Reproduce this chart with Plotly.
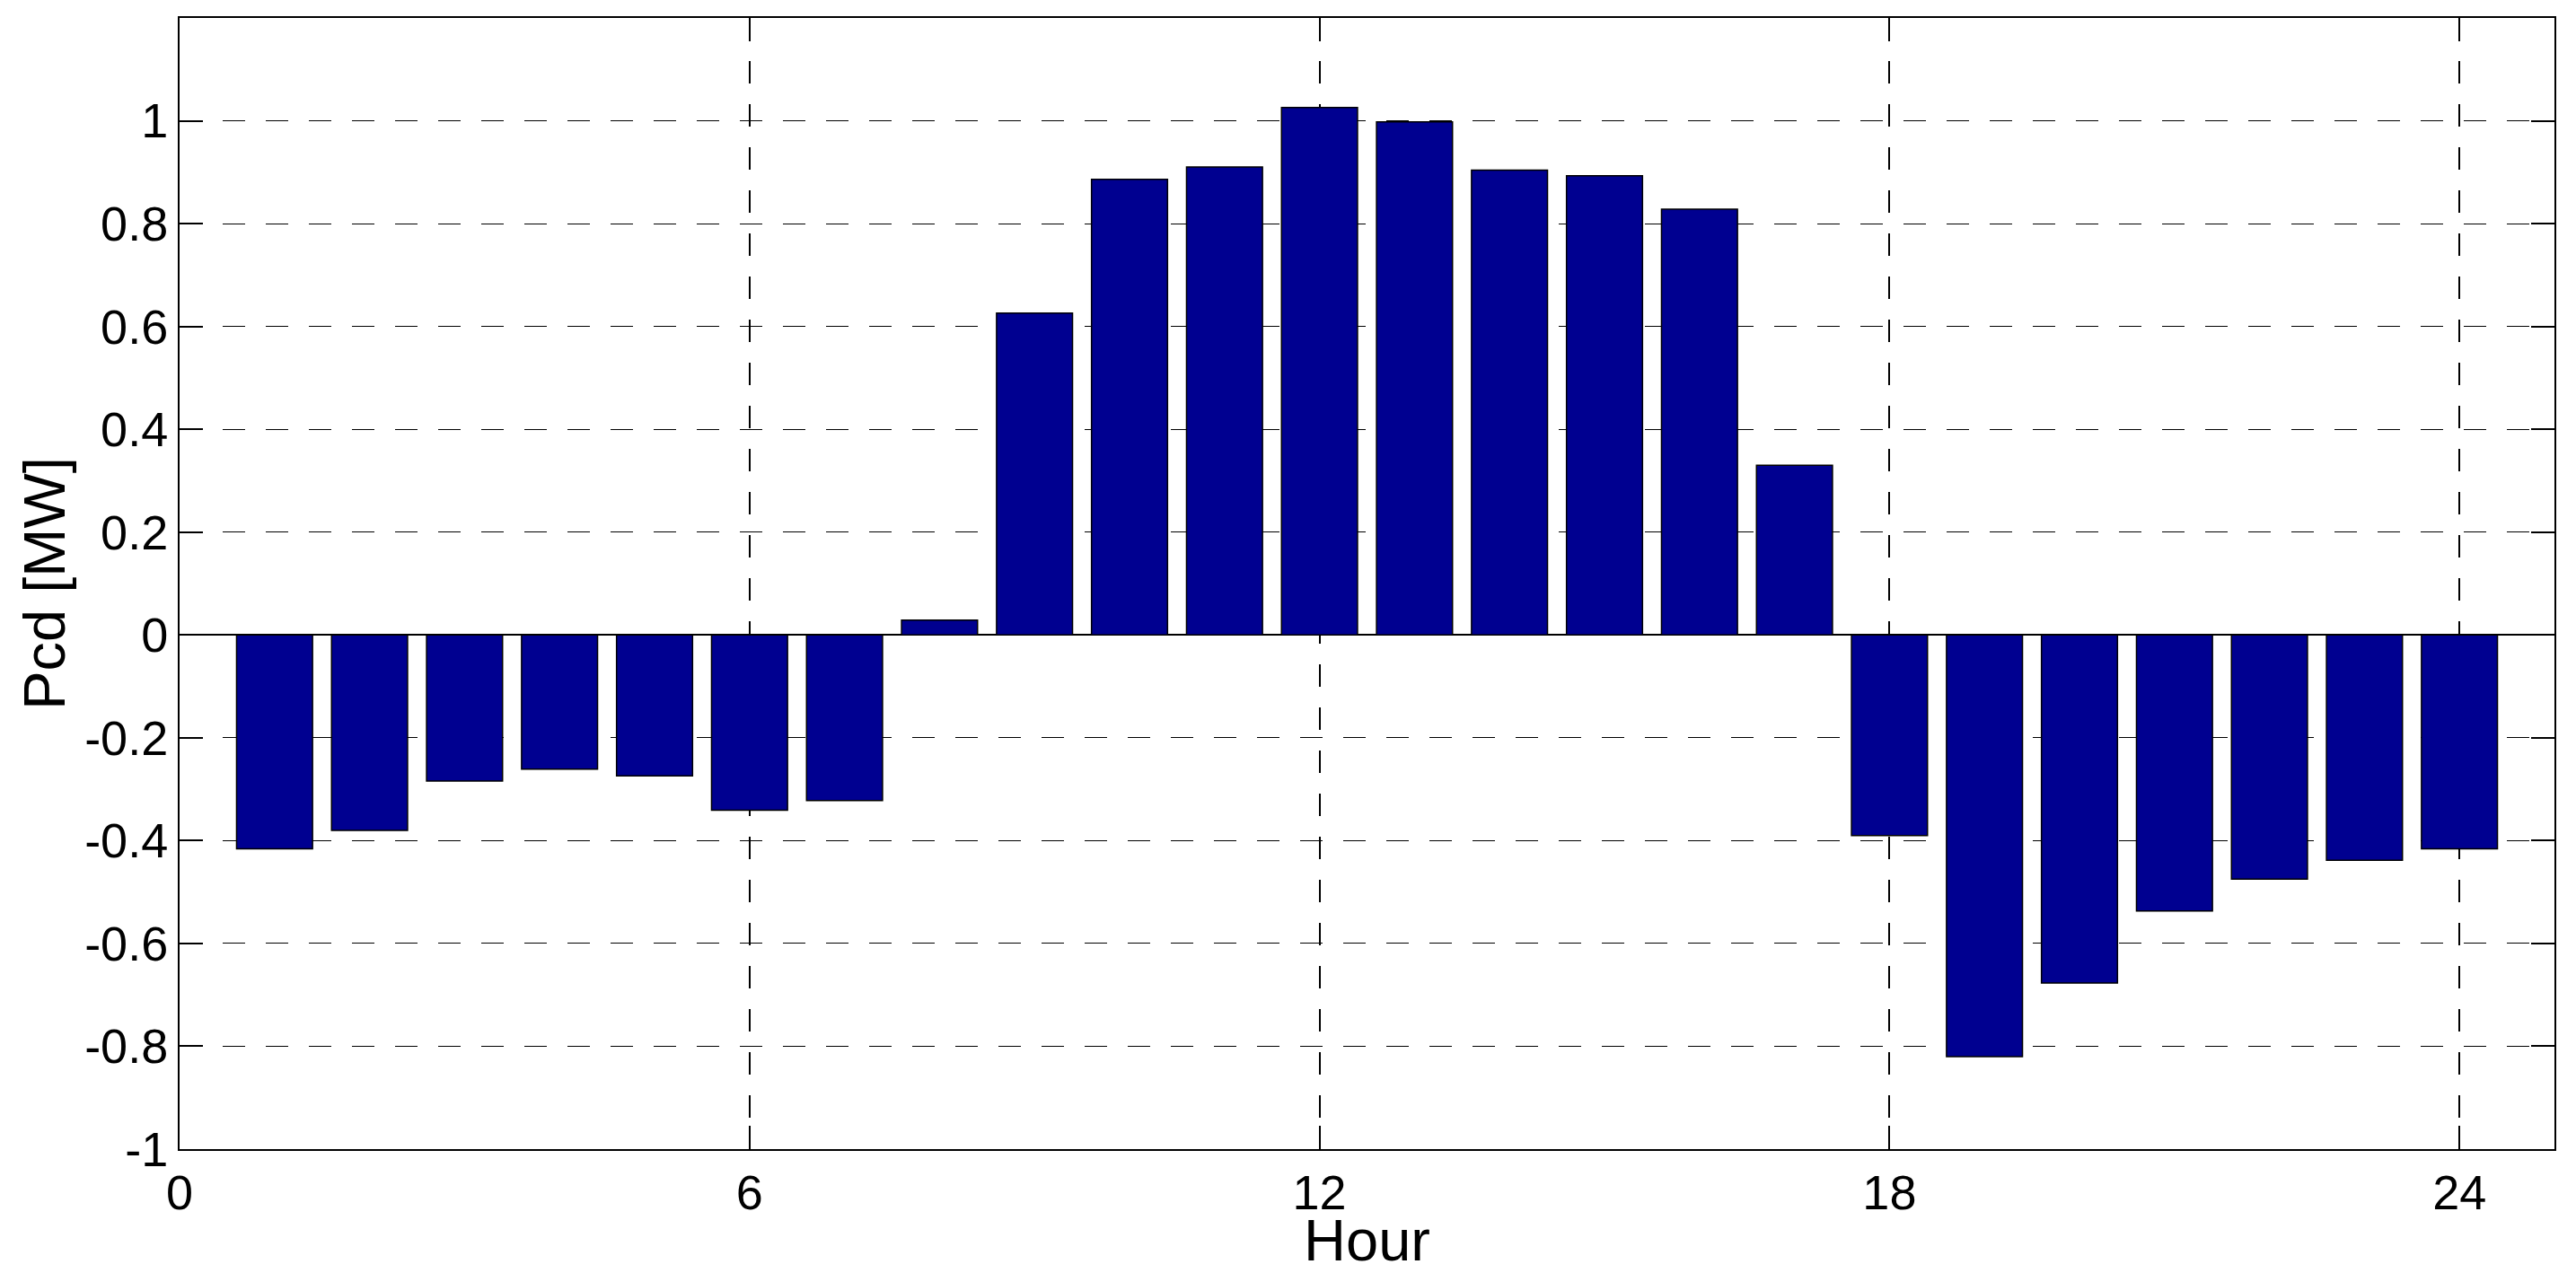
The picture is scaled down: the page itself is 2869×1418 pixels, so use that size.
import plotly.graph_objects as go

# Hourly charge/discharge power
hours = list(range(1, 25))
pcd = [-0.416, -0.380, -0.284, -0.261, -0.274, -0.341, -0.322, 0.029,
       0.626, 0.886, 0.910, 1.026, 0.998, 0.904, 0.893, 0.828,
       0.330, -0.390, -0.820, -0.677, -0.537, -0.475, -0.438, -0.416]

x_ticks = [0, 6, 12, 18, 24]
y_ticks = [-1, -0.8, -0.6, -0.4, -0.2, 0, 0.2, 0.4, 0.6, 0.8, 1]
y_labels = ['-1', '-0.8', '-0.6', '-0.4', '-0.2', '0', '0.2', '0.4', '0.6', '0.8', '1']

font = 'Liberation Sans, Arial, sans-serif'

fig = go.Figure()

fig.add_trace(go.Bar(
    x=hours, y=pcd,
    width=0.8,
    marker=dict(color='#000090', line=dict(color='black', width=1.5)),
    showlegend=False
))

# page body has an 8px margin, so the figure is a bit smaller than the window
fig.update_layout(
    width=2861, height=1410,
    paper_bgcolor='white',
    plot_bgcolor='white',
    margin=dict(l=192, r=24, t=12, b=138),
    font=dict(family=font, size=54, color='black'),
)

fig.update_xaxes(
    range=[0, 25],
    tickvals=x_ticks,
    ticks='inside', ticklen=26, tickwidth=1.5, tickcolor='black',
    showline=True, linecolor='black', linewidth=2, mirror='ticks',
    showgrid=True, gridcolor='black', gridwidth=1.5, griddash='25px,23px',
    zeroline=False,
    title=dict(text='Hour', standoff=0),
    automargin=False,
)

fig.update_yaxes(
    range=[-1, 1.2],
    tickvals=y_ticks, ticktext=y_labels,
    ticks='inside', ticklen=26, tickwidth=1.5, tickcolor='black',
    showline=True, linecolor='black', linewidth=2, mirror='ticks',
    showgrid=True, gridcolor='black', gridwidth=1, griddash='25px,23px',
    zeroline=True, zerolinecolor='black', zerolinewidth=1.5,
    title=dict(text='Pcd [MW]', standoff=0),
    automargin=False,
)

fig.write_html('out.html')
